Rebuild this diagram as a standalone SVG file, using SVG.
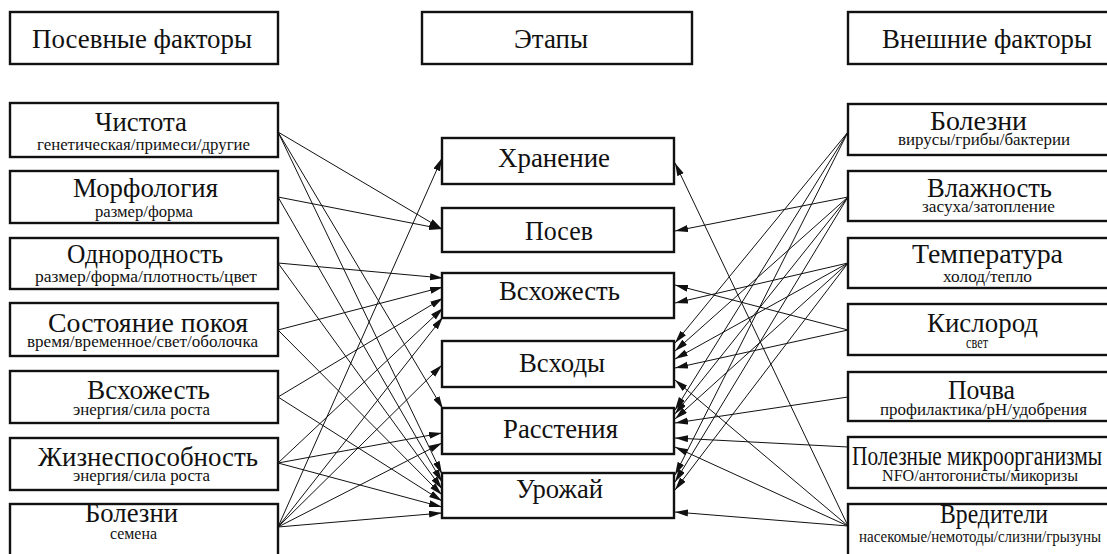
<svg xmlns="http://www.w3.org/2000/svg" width="1107" height="554" viewBox="0 0 1107 554" font-family="Liberation Serif, serif">
<defs>
<marker id="ah" markerUnits="userSpaceOnUse" markerWidth="14" markerHeight="8" refX="13" refY="3.5" orient="auto">
<path d="M0,0 L13,3.5 L0,7 Z" fill="#111"/>
</marker>
<style>
.box{fill:#fff;stroke:#111;stroke-width:2.4}
.t{font-size:28px;fill:#111;text-anchor:middle}
.s{font-size:16px}
.st{text-anchor:start}
#connectors line{stroke:#111;stroke-width:1;marker-end:url(#ah)}
</style>
</defs>
<rect width="1107" height="554" fill="#fff"/>

<g id="hdr-left"><rect class="box" x="10" y="12" width="268" height="52"/><text class="t" x="142" y="48" textLength="220" lengthAdjust="spacingAndGlyphs">Посевные факторы</text></g>
<g id="hdr-center"><rect class="box" x="422" y="12" width="270" height="52"/><text class="t" x="551" y="48" textLength="74" lengthAdjust="spacingAndGlyphs">Этапы</text></g>
<g id="hdr-right"><rect class="box" x="848" y="12" width="262" height="52"/><text class="t" x="987" y="48" textLength="210" lengthAdjust="spacingAndGlyphs">Внешние факторы</text></g>

<g id="l-chistota"><rect class="box" x="10" y="103" width="268" height="54"/><text class="t" x="141" y="131" textLength="92" lengthAdjust="spacingAndGlyphs">Чистота</text><text class="t s" x="143.5" y="150" textLength="213" lengthAdjust="spacingAndGlyphs">генетическая/примеси/другие</text></g>
<g id="l-morf"><rect class="box" x="10" y="171" width="268" height="52"/><text class="t" x="145.5" y="197" textLength="145" lengthAdjust="spacingAndGlyphs">Морфология</text><text class="t s" x="144" y="217" textLength="98" lengthAdjust="spacingAndGlyphs">размер/форма</text></g>
<g id="l-odnor"><rect class="box" x="10" y="238" width="268" height="51"/><text class="t" x="145" y="263" textLength="156" lengthAdjust="spacingAndGlyphs">Однородность</text><text class="t s" x="146" y="282" textLength="222" lengthAdjust="spacingAndGlyphs">размер/форма/плотность/цвет</text></g>
<g id="l-pokoy"><rect class="box" x="10" y="303" width="268" height="53"/><text class="t" x="148" y="332" textLength="200" lengthAdjust="spacingAndGlyphs">Состояние покоя</text><text class="t s" x="142.5" y="347" textLength="231" lengthAdjust="spacingAndGlyphs">время/временное/свет/оболочка</text></g>
<g id="l-vskh"><rect class="box" x="10" y="371" width="268" height="52"/><text class="t" x="148.5" y="399" textLength="123" lengthAdjust="spacingAndGlyphs">Всхожесть</text><text class="t s" x="141.5" y="415" textLength="137" lengthAdjust="spacingAndGlyphs">энергия/сила роста</text></g>
<g id="l-zhizn"><rect class="box" x="10" y="438" width="268" height="52"/><text class="t" x="148" y="466" textLength="220" lengthAdjust="spacingAndGlyphs">Жизнеспособность</text><text class="t s" x="141.5" y="481" textLength="137" lengthAdjust="spacingAndGlyphs">энергия/сила роста</text></g>
<g id="l-bolezni"><rect class="box" x="10" y="504" width="268" height="56"/><text class="t" x="131.5" y="522" textLength="93" lengthAdjust="spacingAndGlyphs">Болезни</text><text class="t s" x="133.5" y="539" textLength="47" lengthAdjust="spacingAndGlyphs">семена</text></g>

<g id="c-hran"><rect class="box" x="442" y="138" width="232" height="46"/><text class="t" x="554" y="167" textLength="112" lengthAdjust="spacingAndGlyphs">Хранение</text></g>
<g id="c-posev"><rect class="box" x="442" y="208" width="232" height="44"/><text class="t" x="559" y="240" textLength="68" lengthAdjust="spacingAndGlyphs">Посев</text></g>
<g id="c-vskh"><rect class="box" x="442" y="273" width="232" height="45"/><text class="t" x="559.5" y="300" textLength="121" lengthAdjust="spacingAndGlyphs">Всхожесть</text></g>
<g id="c-vskhody"><rect class="box" x="442" y="341" width="232" height="46"/><text class="t" x="562" y="372" textLength="86" lengthAdjust="spacingAndGlyphs">Всходы</text></g>
<g id="c-rast"><rect class="box" x="442" y="408" width="232" height="46"/><text class="t" x="560.5" y="438" textLength="115" lengthAdjust="spacingAndGlyphs">Расстения</text></g>
<g id="c-urozh"><rect class="box" x="442" y="473" width="232" height="45"/><text class="t" x="559.5" y="498" textLength="87" lengthAdjust="spacingAndGlyphs">Урожай</text></g>

<g id="r-bolezni"><rect class="box" x="848" y="104" width="262" height="51"/><text class="t" x="978.5" y="130" textLength="97" lengthAdjust="spacingAndGlyphs">Болезни</text><text class="t s" x="984" y="145" textLength="172" lengthAdjust="spacingAndGlyphs">вирусы/грибы/бактерии</text></g>
<g id="r-vlazh"><rect class="box" x="848" y="171" width="262" height="50"/><text class="t" x="989.5" y="197" textLength="125" lengthAdjust="spacingAndGlyphs">Влажность</text><text class="t s" x="988.5" y="212" textLength="133" lengthAdjust="spacingAndGlyphs">засуха/затопление</text></g>
<g id="r-temp"><rect class="box" x="848" y="238" width="262" height="50"/><text class="t" x="987.5" y="263" textLength="151" lengthAdjust="spacingAndGlyphs">Температура</text><text class="t s" x="987.5" y="282" textLength="89" lengthAdjust="spacingAndGlyphs">холод/тепло</text></g>
<g id="r-kisl"><rect class="box" x="848" y="304" width="262" height="51"/><text class="t" x="982.5" y="332" textLength="111" lengthAdjust="spacingAndGlyphs">Кислород</text><text class="t s" x="977" y="348" textLength="22" lengthAdjust="spacingAndGlyphs">свет</text></g>
<g id="r-pochva"><rect class="box" x="848" y="372" width="262" height="49"/><text class="t" x="981.5" y="399" textLength="67" lengthAdjust="spacingAndGlyphs">Почва</text><text class="t s" x="983.5" y="415" textLength="207" lengthAdjust="spacingAndGlyphs">профилактика/pH/удобрения</text></g>
<g id="r-mikro"><rect class="box" x="848" y="437" width="262" height="51"/><text class="t st" x="852" y="465" textLength="250" lengthAdjust="spacingAndGlyphs">Полезные микроорганизмы</text><text class="t s" x="980" y="481" textLength="196" lengthAdjust="spacingAndGlyphs">NFO/антогонисты/микоризы</text></g>
<g id="r-vred"><rect class="box" x="848" y="504" width="262" height="56"/><text class="t" x="994" y="523" textLength="108" lengthAdjust="spacingAndGlyphs">Вредители</text><text class="t s st" x="859" y="542" textLength="242" lengthAdjust="spacingAndGlyphs">насекомые/немотоды/слизни/грызуны</text></g>

<g id="connectors">
<line x1="278" y1="132" x2="442" y2="229"/>
<line x1="278" y1="132" x2="443" y2="409"/>
<line x1="278" y1="132" x2="442" y2="474"/>
<line x1="278" y1="197" x2="442" y2="229"/>
<line x1="278" y1="197" x2="442" y2="482"/>
<line x1="278" y1="263" x2="443" y2="278"/>
<line x1="278" y1="263" x2="442" y2="489"/>
<line x1="278" y1="330" x2="443" y2="287"/>
<line x1="278" y1="330" x2="442" y2="495"/>
<line x1="278" y1="397" x2="443" y2="298"/>
<line x1="278" y1="397" x2="442" y2="501"/>
<line x1="278" y1="463" x2="443" y2="308"/>
<line x1="278" y1="463" x2="442" y2="433"/>
<line x1="278" y1="463" x2="442" y2="507"/>
<line x1="278" y1="527" x2="442" y2="158"/>
<line x1="278" y1="527" x2="443" y2="317"/>
<line x1="278" y1="527" x2="442" y2="365"/>
<line x1="278" y1="527" x2="442" y2="443"/>
<line x1="278" y1="527" x2="442" y2="513"/>

<line x1="848" y1="526" x2="675" y2="163"/>
<line x1="848" y1="197" x2="675" y2="231"/>
<line x1="848" y1="330" x2="675" y2="285"/>
<line x1="848" y1="263" x2="675" y2="303"/>
<line x1="848" y1="132" x2="675" y2="343"/>
<line x1="848" y1="197" x2="675" y2="351"/>
<line x1="848" y1="263" x2="675" y2="359"/>
<line x1="848" y1="330" x2="675" y2="368"/>
<line x1="848" y1="526" x2="675" y2="380"/>
<line x1="848" y1="132" x2="675" y2="410"/>
<line x1="848" y1="197" x2="675" y2="414"/>
<line x1="848" y1="263" x2="675" y2="419"/>
<line x1="848" y1="397" x2="675" y2="423"/>
<line x1="848" y1="447" x2="675" y2="438"/>
<line x1="848" y1="526" x2="675" y2="447"/>
<line x1="848" y1="132" x2="675" y2="475"/>
<line x1="848" y1="197" x2="675" y2="482"/>
<line x1="848" y1="263" x2="675" y2="490"/>
<line x1="848" y1="526" x2="675" y2="512"/>
</g>
</svg>
